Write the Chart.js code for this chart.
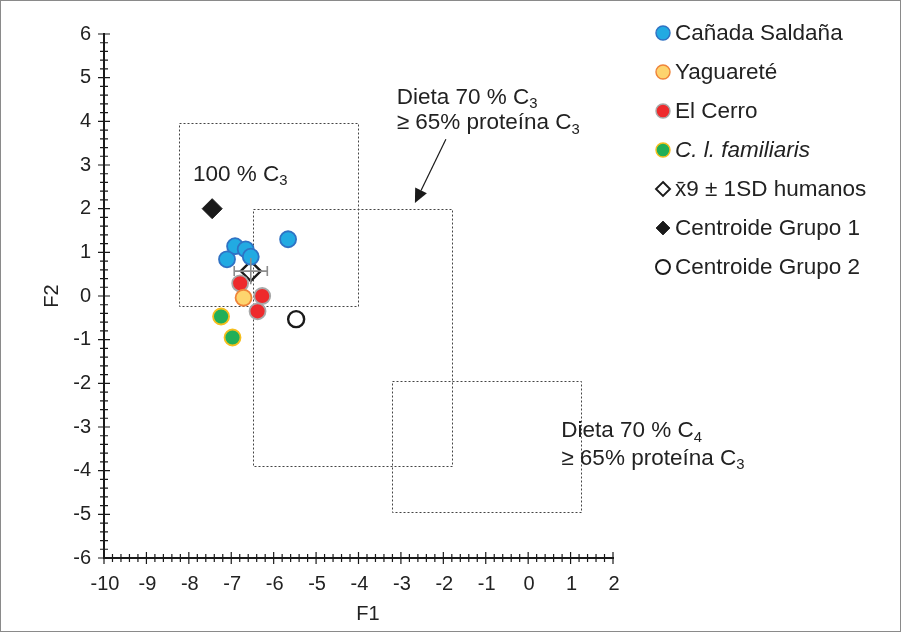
<!DOCTYPE html>
<html>
<head>
<meta charset="utf-8">
<script src="https://cdn.jsdelivr.net/npm/chart.js@4"></script>
<style>
  html, body { margin: 0; padding: 0; background: #fff; }
  #wrap { width: 901px; height: 632px; }
</style>
</head>
<body>
<div id="wrap"><canvas id="chart"></canvas></div>
<script>
// values (F1, F2)
const canadaF1 = [-6.91, -6.66, -6.54, -7.10, -5.66];
const canadaF2 = [1.14, 1.07, 0.90, 0.84, 1.30];
const yaguareteF1 = [-6.71];
const yaguareteF2 = [-0.04];
const cerroF1 = [-6.79, -6.27, -6.38];
const cerroF2 = [0.29, 0.00, -0.35];
const canisF1 = [-7.24, -6.97];
const canisF2 = [-0.47, -0.95];
const humanF1 = [-6.54];
const humanF2 = [0.57];
const humanSdF1 = [0.39];
const humanSdF2 = [0.30];
const centroid1F1 = [-7.45];
const centroid1F2 = [2.0];
const centroid2F1 = [-5.47];
const centroid2F2 = [-0.53];

// dietary boxes [F1 min, F1 max, F2 min, F2 max]
const boxC3 = [-8.23, -4.01, -0.23, 3.96];
const boxMix = [-6.49, -1.79, -3.89, 1.99];
const boxC4 = [-3.21, 1.25, -4.94, -1.95];

const xTicks = [-10, -9, -8, -7, -6, -5, -4, -3, -2, -1, 0, 1, 2];
const yTicks = [-6, -5, -4, -3, -2, -1, 0, 1, 2, 3, 4, 5, 6];

const FONT = '"Liberation Sans", Arial, sans-serif';

function pts(xs, ys) {
  return xs.map((x, i) => ({ x: x, y: ys[i] }));
}

// draw text with subscript pieces: [[text, isSub], ...]
function drawSub(ctx, parts, x, y, size) {
  let cx = x;
  parts.forEach(p => {
    if (p[1]) {
      ctx.font = (size * 0.66) + 'px ' + FONT;
      ctx.fillText(p[0], cx, y + size * 0.3);
    } else {
      ctx.font = size + 'px ' + FONT;
      ctx.fillText(p[0], cx, y);
    }
    cx += ctx.measureText(p[0]).width;
  });
}

function marker(ctx, ds, x, y, r) {
  ctx.save();
  ctx.beginPath();
  if (ds.pointStyle === 'rectRot') {
    ctx.moveTo(x, y - r); ctx.lineTo(x + r, y); ctx.lineTo(x, y + r); ctx.lineTo(x - r, y); ctx.closePath();
  } else {
    ctx.arc(x, y, r, 0, Math.PI * 2);
  }
  ctx.fillStyle = ds.backgroundColor === 'rgba(0,0,0,0)' ? '#fff' : ds.backgroundColor;
  ctx.fill();
  ctx.lineWidth = ds.borderWidth * 0.8;
  ctx.strokeStyle = ds.borderColor;
  ctx.stroke();
  ctx.restore();
}

const decor = {
  id: 'decor',
  beforeDraw(chart) {
    const ctx = chart.ctx;
    ctx.save();
    ctx.strokeStyle = '#8a8a8a';
    ctx.lineWidth = 1;
    ctx.strokeRect(0.5, 0.5, chart.width - 1, chart.height - 1);
    ctx.restore();
  },
  beforeDatasetsDraw(chart) {
    const ctx = chart.ctx;
    const xs = chart.scales.x, ys = chart.scales.y;
    const a = chart.chartArea;
    ctx.save();

    // dotted boxes
    ctx.strokeStyle = '#444';
    ctx.lineWidth = 1;
    ctx.setLineDash([2, 2]);
    [boxC3, boxMix, boxC4].forEach(b => {
      const x0 = Math.round(xs.getPixelForValue(b[0])) + 0.5;
      const x1 = Math.round(xs.getPixelForValue(b[1])) + 0.5;
      const y0 = Math.round(ys.getPixelForValue(b[3])) + 0.5;
      const y1 = Math.round(ys.getPixelForValue(b[2])) + 0.5;
      ctx.strokeRect(x0, y0, x1 - x0, y1 - y0);
    });
    ctx.setLineDash([]);

    // axes with crossing ticks
    ctx.strokeStyle = '#1a1a1a';
    ctx.lineWidth = 2;
    ctx.beginPath();
    ctx.moveTo(a.left, a.top - 1);
    ctx.lineTo(a.left, a.bottom);
    ctx.lineTo(a.right + 1, a.bottom);
    ctx.stroke();
    ctx.lineWidth = 1.2;
    ctx.beginPath();
    for (let i = 0; i <= 60; i++) {
      const v = -10 + i * 0.2;
      const px = xs.getPixelForValue(v);
      const len = i % 5 === 0 ? 6 : 4;
      ctx.moveTo(px, a.bottom - len);
      ctx.lineTo(px, a.bottom + len);
    }
    for (let i = 0; i <= 60; i++) {
      const v = -6 + i * 0.2;
      const py = ys.getPixelForValue(v);
      const len = i % 5 === 0 ? 6 : 4;
      ctx.moveTo(a.left - len, py);
      ctx.lineTo(a.left + len, py);
    }
    ctx.stroke();

    // tick labels
    ctx.fillStyle = '#222';
    ctx.font = '20px ' + FONT;
    ctx.textAlign = 'center';
    ctx.textBaseline = 'middle';
    xTicks.forEach(t => ctx.fillText(String(t), xs.getPixelForValue(t) + 1, a.bottom + 26));
    ctx.textAlign = 'right';
    yTicks.forEach(t => ctx.fillText(String(t), a.left - 13, ys.getPixelForValue(t)));

    // axis titles
    ctx.textAlign = 'center';
    ctx.fillText('F1', 368, 614);
    ctx.save();
    ctx.translate(52, ys.getPixelForValue(0));
    ctx.rotate(-Math.PI / 2);
    ctx.fillText('F2', 0, 0);
    ctx.restore();

    // annotations
    ctx.textAlign = 'left';
    ctx.textBaseline = 'middle';
    drawSub(ctx, [['100 % C', 0], ['3', 1]], xs.getPixelForValue(-7.9), ys.getPixelForValue(2.78), 22.5);
    drawSub(ctx, [['Dieta 70 % C', 0], ['3', 1]], xs.getPixelForValue(-3.1), ys.getPixelForValue(4.55), 22.5);
    drawSub(ctx, [['\u2265 65% prote\u00edna C', 0], ['3', 1]], xs.getPixelForValue(-3.1), ys.getPixelForValue(3.96), 22.5);
    drawSub(ctx, [['Dieta 70 % C', 0], ['4', 1]], xs.getPixelForValue(0.78), ys.getPixelForValue(-3.09), 22.5);
    drawSub(ctx, [['\u2265 65% prote\u00edna C', 0], ['3', 1]], xs.getPixelForValue(0.78), ys.getPixelForValue(-3.72), 22.5);

    // arrow
    const sx = xs.getPixelForValue(-1.94), sy = ys.getPixelForValue(3.59);
    const tx = xs.getPixelForValue(-2.67), ty = ys.getPixelForValue(2.13);
    const ang = Math.atan2(ty - sy, tx - sx);
    const hl = 14, hw = 6.5;
    const bx = tx - Math.cos(ang) * hl, by = ty - Math.sin(ang) * hl;
    ctx.strokeStyle = '#1a1a1a';
    ctx.lineWidth = 1.2;
    ctx.beginPath();
    ctx.moveTo(sx, sy);
    ctx.lineTo(bx, by);
    ctx.stroke();
    ctx.fillStyle = '#1a1a1a';
    ctx.beginPath();
    ctx.moveTo(tx, ty);
    ctx.lineTo(bx + Math.sin(ang) * hw, by - Math.cos(ang) * hw);
    ctx.lineTo(bx - Math.sin(ang) * hw, by + Math.cos(ang) * hw);
    ctx.closePath();
    ctx.fill();

    ctx.restore();
  },
  afterDatasetsDraw(chart) {
    const ctx = chart.ctx;
    const xs = chart.scales.x, ys = chart.scales.y;
    ctx.save();
    // error bars of human mean
    ctx.strokeStyle = '#8c8c8c';
    ctx.lineWidth = 1.6;
    humanF1.forEach((x, i) => {
      const cx = xs.getPixelForValue(x), cy = ys.getPixelForValue(humanF2[i]);
      const xl = xs.getPixelForValue(x - humanSdF1[i]), xr = xs.getPixelForValue(x + humanSdF1[i]);
      const yt = ys.getPixelForValue(humanF2[i] + humanSdF2[i]), yb = ys.getPixelForValue(humanF2[i] - humanSdF2[i]);
      ctx.beginPath();
      ctx.moveTo(xl, cy); ctx.lineTo(xr, cy);
      ctx.moveTo(xl, cy - 5); ctx.lineTo(xl, cy + 5);
      ctx.moveTo(xr, cy - 5); ctx.lineTo(xr, cy + 5);
      ctx.moveTo(cx, yt); ctx.lineTo(cx, yb);
      ctx.stroke();
    });
    ctx.restore();

    // legend
    ctx.save();
    const rows = [33, 72, 111, 150, 189, 228, 267];
    ctx.textAlign = 'left';
    ctx.textBaseline = 'middle';
    chart.data.datasets.forEach((ds, i) => {
      marker(ctx, ds, 663, rows[i], 7);
      ctx.fillStyle = '#222';
      ctx.font = (ds.italic ? 'italic ' : '') + '22.5px ' + FONT;
      ctx.fillText(ds.label, 675, rows[i] + 1);
    });
    ctx.restore();
  }
};

new Chart(document.getElementById('chart'), {
  type: 'scatter',
  data: {
    datasets: [
      { label: 'Ca\u00f1ada Salda\u00f1a', data: pts(canadaF1, canadaF2), pointStyle: 'circle', pointRadius: 8,
        backgroundColor: '#22aae2', borderColor: '#2f72c4', borderWidth: 1.8 },
      { label: 'Yaguaret\u00e9', data: pts(yaguareteF1, yaguareteF2), pointStyle: 'circle', pointRadius: 8,
        backgroundColor: '#fdd46e', borderColor: '#ef843a', borderWidth: 1.8 },
      { label: 'El Cerro', data: pts(cerroF1, cerroF2), pointStyle: 'circle', pointRadius: 8,
        backgroundColor: '#ee2a2c', borderColor: '#a8a8a8', borderWidth: 1.8 },
      { label: 'C. l. familiaris', italic: true, data: pts(canisF1, canisF2), pointStyle: 'circle', pointRadius: 8,
        backgroundColor: '#21af58', borderColor: '#f5be1c', borderWidth: 1.8 },
      { label: 'x\u03049 \u00b1 1SD humanos', data: pts(humanF1, humanF2), pointStyle: 'rectRot', pointRadius: 10,
        backgroundColor: 'rgba(0,0,0,0)', borderColor: '#1a1a1a', borderWidth: 2.4 },
      { label: 'Centroide Grupo 1', data: pts(centroid1F1, centroid1F2), pointStyle: 'rectRot', pointRadius: 10,
        backgroundColor: '#1a1a1a', borderColor: '#1a1a1a', borderWidth: 1 },
      { label: 'Centroide Grupo 2', data: pts(centroid2F1, centroid2F2), pointStyle: 'circle', pointRadius: 8,
        backgroundColor: '#ffffff', borderColor: '#1a1a1a', borderWidth: 2.4 }
    ]
  },
  options: {
    responsive: true,
    maintainAspectRatio: false,
    animation: false,
    layout: { padding: { left: 104, right: 288, top: 34, bottom: 74 } },
    scales: {
      x: { type: 'linear', min: -10, max: 2, display: false },
      y: { type: 'linear', min: -6, max: 6, display: false }
    },
    plugins: { legend: { display: false }, tooltip: { enabled: false } }
  },
  plugins: [decor]
});
</script>
</body>
</html>
